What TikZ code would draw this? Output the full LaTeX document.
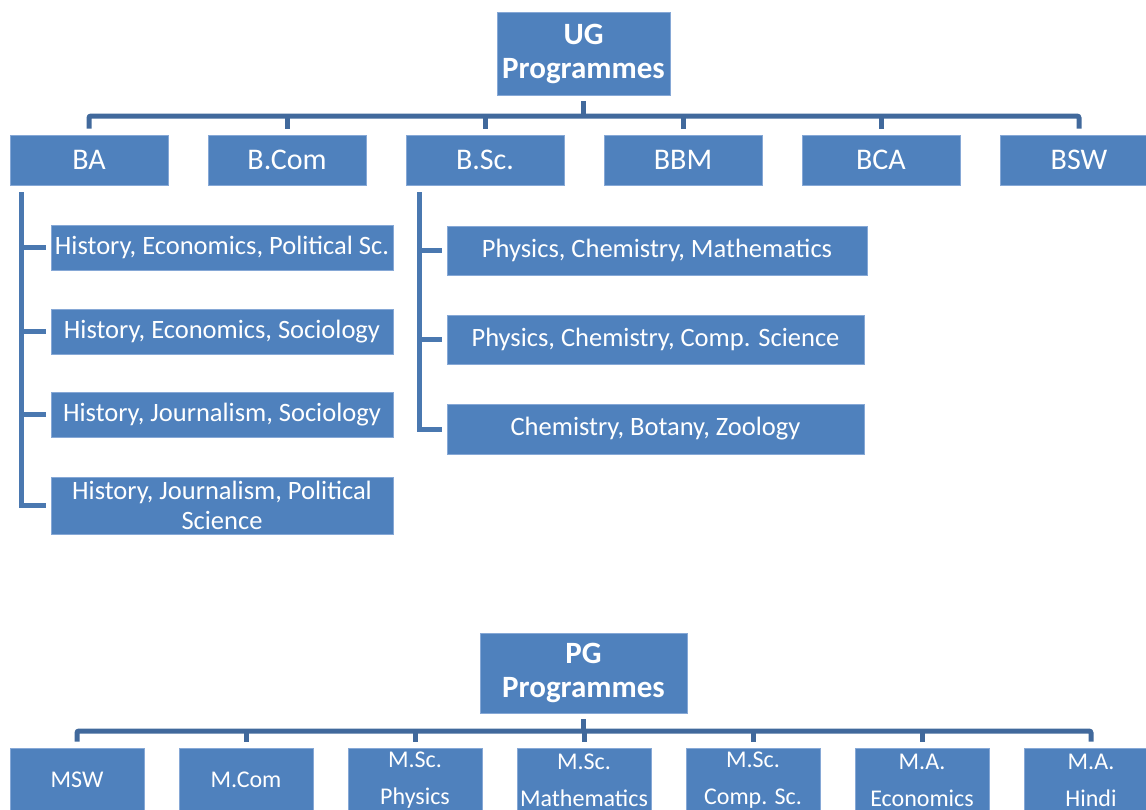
\documentclass[tikz,border=0pt]{standalone}
\usepackage{fontspec}
\setmainfont{Carlito}
\usepackage{tikz}
\usetikzlibrary{calc,positioning}
\definecolor{boxblue}{HTML}{4F81BD}
\definecolor{linkblue}{HTML}{41699C}
\definecolor{sideblue}{HTML}{4A78B0}
\definecolor{edgeblue}{HTML}{86A8D6}
\tikzstyle{prog} = [rectangle, fill=boxblue, draw=edgeblue, line width=0.8pt, text=white, inner sep=0pt, align=center]
\tikzstyle{head} = [prog, font=\fontsize{31}{34}\selectfont\bfseries]
\tikzstyle{degree} = [prog, minimum width=158pt, minimum height=50pt, font=\fontsize{30}{34}\selectfont]
\tikzstyle{combo} = [prog, font=\fontsize{26.5}{30}\selectfont]
\tikzstyle{pgdeg} = [prog, minimum width=134pt, minimum height=64pt, font=\fontsize{24}{37}\selectfont]
\tikzstyle{link} = [draw=linkblue, line width=5pt, rounded corners=2pt]
\tikzstyle{sublink} = [draw=sideblue, line width=5pt]

\begin{document}
\begin{tikzpicture}[x=1pt,y=-1pt]
    \useasboundingbox[fill=white] (0,0) rectangle (1146,809);
    % UG programmes
    \node[head, minimum width=173pt, minimum height=83pt] (UG) at (583.5,53.5) {UG\\Programmes};
    \node[degree] (BA) at (89,160) {BA};
    \node[degree] (BCom) at (287,160) {B.Com};
    \node[degree] (BSc) at (485,160) {B.Sc.};
    \node[degree] (BBM) at (683,160) {BBM};
    \node[degree] (BCA) at (881,160) {BCA};
    \node[degree] (BSW) at (1079,160) {BSW};
    \coordinate (ugbus) at (583.5,116);
    \draw[link] ([yshift=-6pt]UG.south) -- (ugbus);
    \draw[link] ([yshift=6pt]BA.north) |- (ugbus) -| ([yshift=6pt]BSW.north);
    \draw[link] ([yshift=6pt]BCom.north) -- (BCom.north |- ugbus);
    \draw[link] ([yshift=6pt]BSc.north) -- (BSc.north |- ugbus);
    \draw[link] ([yshift=6pt]BBM.north) -- (BBM.north |- ugbus);
    \draw[link] ([yshift=6pt]BCA.north) -- (BCA.north |- ugbus);

    % BA subjects
    \node[combo, minimum width=342pt, minimum height=45pt] (ba1) at (222,247.5) {History, Economics, Political Sc.};
    \node[combo, minimum width=342pt, minimum height=45pt] (ba2) at (222,331.5) {History, Economics, Sociology};
    \node[combo, minimum width=342pt, minimum height=45pt] (ba3) at (222,414.5) {History, Journalism, Sociology};
    \node[combo, minimum width=342pt, minimum height=57pt] (ba4) at (222,505.5) {History, Journalism, Political\\Science};
    \coordinate (batop) at ([xshift=12pt,yshift=-7pt]BA.south west);
    \draw[sublink] (batop) |- ([xshift=-5pt]ba4.west);
    \foreach \n in {ba1,ba2,ba3}
        \draw[sublink] (batop |- \n.west) -- ([xshift=-5pt]\n.west);

    % B.Sc. subjects
    \node[combo, minimum width=420pt, minimum height=49pt] (bsc1) at (657,250.5) {Physics, Chemistry, Mathematics};
    \node[combo, minimum width=417pt, minimum height=49pt] (bsc2) at (655.5,339.5) {Physics, Chemistry, Comp. Science};
    \node[combo, minimum width=417pt, minimum height=50pt] (bsc3) at (655.5,429) {Chemistry, Botany, Zoology};
    \coordinate (bsctop) at ([xshift=14pt,yshift=-7pt]BSc.south west);
    \draw[sublink] (bsctop) |- ([xshift=-5pt]bsc3.west);
    \foreach \n in {bsc1,bsc2}
        \draw[sublink] (bsctop |- \n.west) -- ([xshift=-5pt]\n.west);

    % PG programmes
    \node[head, minimum width=207pt, minimum height=80pt] (PG) at (583.5,673) {PG\\Programmes};
    \node[pgdeg] (MSW) at (77,780) {MSW};
    \node[pgdeg] (MCom) at (246,780) {M.Com};
    \node[pgdeg] (MPhy) at (415,780) {M.Sc.\\Physics};
    \node[pgdeg] (MMath) at (584,780) {M.Sc.\\Mathematics};
    \node[pgdeg] (MComp) at (753,780) {M.Sc.\\Comp. Sc.};
    \node[pgdeg] (MEco) at (922,780) {M.A.\\Economics};
    \node[pgdeg] (MHin) at (1091,780) {M.A.\\Hindi};
    \coordinate (pgbus) at (583.5,731);
    \draw[link] ([yshift=-6pt]PG.south) -- (pgbus);
    \draw[link] ([yshift=6pt]MSW.north) |- (pgbus) -| ([yshift=6pt]MHin.north);
    \draw[link] ([yshift=6pt]MCom.north) -- (MCom.north |- pgbus);
    \draw[link] ([yshift=6pt]MPhy.north) -- (MPhy.north |- pgbus);
    \draw[link] ([yshift=6pt]MMath.north) -- (MMath.north |- pgbus);
    \draw[link] ([yshift=6pt]MComp.north) -- (MComp.north |- pgbus);
    \draw[link] ([yshift=6pt]MEco.north) -- (MEco.north |- pgbus);
\end{tikzpicture}
\end{document}
